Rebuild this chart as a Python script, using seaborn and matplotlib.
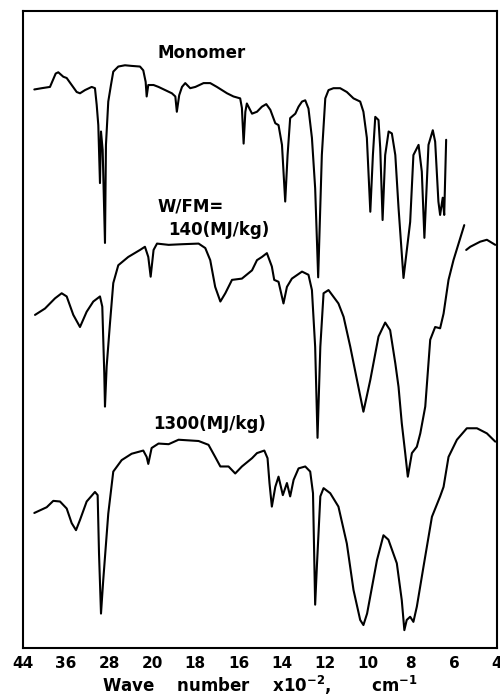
import numpy as np
import pandas as pd
import matplotlib
matplotlib.use("Agg")
import matplotlib.pyplot as plt
import seaborn as sns

# ---- data: wavenumber (x10^2 cm^-1) and relative transmittance (chart %) ----
mono_w = [41.90, 40.53, 38.99, 37.93, 37.45, 36.52, 35.89, 34.96, 34.03, 33.42, 32.49, 31.25, 30.64,
          30.32, 30.02, 29.71, 29.52, 29.21, 28.78, 28.60, 28.17, 27.67, 27.24, 26.31, 25.07, 23.83,
          22.28, 21.67, 21.23, 21.04, 20.74, 19.94, 19.71, 19.40, 19.09, 18.93, 18.86, 18.75, 18.62,
          18.47, 18.24, 18.00, 17.62, 17.31, 17.00, 16.53, 16.23, 15.92, 15.84, 15.76, 15.68, 15.61,
          15.37, 15.14, 14.91, 14.71, 14.52, 14.29, 14.14, 13.98, 13.83, 13.72, 13.60, 13.36, 13.21,
          13.05, 12.90, 12.75, 12.59, 12.44, 12.30, 12.13, 11.97, 11.82, 11.59, 11.28, 10.97, 10.66,
          10.35, 10.20, 10.04, 9.88, 9.76, 9.65, 9.50, 9.42, 9.31, 9.19, 9.03, 8.88, 8.72, 8.57, 8.34,
          8.03, 7.88, 7.64, 7.49, 7.37, 7.18, 6.98, 6.87, 6.72, 6.64, 6.52, 6.45, 6.36]
mono_t = [87.7, 87.9, 88.1, 90.2, 90.4, 89.7, 89.5, 88.4, 87.3, 87.1, 87.6, 88.1, 87.9,
          85.3, 82.1, 73.0, 81.1, 78.2, 63.6, 79.0, 85.8, 88.4, 90.5, 91.3, 91.5, 91.4,
          91.3, 90.7, 88.9, 86.6, 88.4, 88.4, 88.1, 87.6, 87.1, 86.6, 84.2, 86.8, 88.1,
          88.7, 87.9, 88.1, 88.7, 88.7, 88.1, 87.1, 86.6, 86.3, 84.8, 79.2, 84.2, 85.5,
          83.9, 84.2, 85.0, 85.4, 84.5, 82.4, 82.1, 79.0, 70.1, 77.4, 83.2, 83.9, 85.0,
          85.8, 86.0, 84.7, 80.1, 72.2, 58.2, 77.4, 86.3, 87.6, 87.9, 87.9, 87.3, 86.3,
          85.8, 84.2, 80.1, 68.5, 77.4, 83.4, 82.9, 78.5, 67.2, 77.4, 81.1, 80.8, 77.4, 69.1, 58.1,
          66.9, 77.4, 79.0, 74.8, 64.4, 79.0, 81.3, 79.5, 70.1, 68.0, 70.7, 68.0, 79.8]

w140_w = [41.77, 39.92, 38.06, 36.82, 35.89, 34.66, 33.42, 32.18, 30.95, 29.71, 29.28, 28.91, 28.78,
          28.47, 27.85, 27.24, 26.31, 24.46, 22.28, 21.36, 20.74, 20.30, 19.94, 19.78, 19.24, 18.62,
          17.85, 17.54, 17.31, 17.08, 16.84, 16.61, 16.30, 15.84, 15.37, 15.14, 14.91, 14.68, 14.45,
          14.34, 14.14, 13.91, 13.75, 13.52, 13.05, 12.75, 12.59, 12.44, 12.33, 12.20, 12.05, 11.82,
          11.36, 11.12, 10.81, 10.50, 10.20, 9.88, 9.50, 9.19, 8.96, 8.72, 8.57, 8.42, 8.26, 8.14,
          7.95, 7.72, 7.56, 7.33, 7.10, 6.87, 6.64, 6.48, 6.25, 6.02, 5.52,
          np.nan, 5.43, 5.24, 4.78, 4.47, 4.08]
w140_t = [52.3, 53.3, 54.9, 55.7, 55.2, 52.3, 50.4, 52.8, 54.4, 55.2, 53.6, 43.1, 37.9,
          44.2, 51.0, 57.3, 60.1, 61.4, 62.5, 63.0, 61.4, 58.3, 62.5, 63.5, 63.3, 63.4,
          63.5, 62.8, 60.9, 56.7, 54.4, 55.7, 57.8, 58.0, 59.3, 60.9, 61.4, 62.0, 59.9,
          57.8, 57.5, 54.1, 56.7, 58.0, 59.1, 58.6, 56.2, 47.3, 33.0, 47.3, 55.7, 56.2,
          54.1, 52.0, 47.3, 42.1, 37.1, 42.1, 48.9, 51.1, 49.9, 44.7, 41.0, 35.3, 30.6, 26.9,
          30.6, 31.6, 33.7, 37.9, 48.4, 50.4, 50.2, 52.5, 57.8, 60.9, 66.4,
          np.nan, 62.5, 63.0, 63.8, 64.1, 63.3]

w1300_w = [41.90, 39.60, 38.38, 37.13, 35.89, 34.96, 34.16, 33.42, 32.18, 30.64, 30.14, 29.89, 29.52,
           29.10, 28.17, 27.24, 25.68, 23.83, 21.67, 21.04, 20.74, 20.12, 19.71, 19.24, 18.78, 17.85,
           17.39, 17.08, 16.84, 16.46, 16.15, 15.84, 15.37, 15.14, 14.80, 14.65, 14.56, 14.45, 14.29,
           14.14, 13.94, 13.75, 13.60, 13.44, 13.21, 12.90, 12.67, 12.54, 12.44, 12.36, 12.20, 12.05,
           11.74, 11.36, 10.97, 10.66, 10.35, 10.20, 10.03, 9.57, 9.27, 9.04, 8.65, 8.42, 8.30, 8.19,
           8.03, 7.88, 7.72, 7.41, 7.02, 6.64, 6.48, 6.25, 5.86, 5.40, 4.93, 4.47, 4.08]
w1300_t = [21.2, 22.1, 23.1, 23.0, 21.9, 19.6, 18.5, 20.1, 23.0, 24.5, 24.0, 14.9, 5.4,
           10.7, 21.1, 27.7, 29.5, 30.5, 31.0, 30.0, 28.9, 31.4, 32.1, 32.0, 32.7, 32.5,
           31.9, 30.0, 28.5, 28.5, 27.4, 28.5, 29.8, 30.6, 31.0, 29.8, 25.9, 22.2, 25.3,
           26.9, 24.0, 25.9, 23.8, 26.4, 28.2, 28.5, 27.7, 24.3, 6.8, 12.8, 23.8, 25.1,
           24.3, 22.2, 16.4, 9.1, 4.4, 3.6, 5.4, 13.8, 17.7, 17.0, 13.3, 7.5, 2.8, 4.4,
           4.9, 4.1, 6.5, 12.8, 20.6, 23.8, 25.3, 30.0, 32.7, 34.5, 34.5, 33.7, 32.4]

tick_values = [44, 36, 28, 20, 18, 16, 14, 12, 10, 8, 6, 4]
tick_labels = ["44", "36", "28", "20", "18", "16", "14", "12", "10", "8", "6", "4"]

labels = ["Monomer", "W/FM=", "140(MJ/kg)", "1300(MJ/kg)"]
label_x = [19.77, 19.77, 19.26, 19.95]
label_y = [93.4, 69.4, 65.6, 35.2]


# ---- piecewise (grating-change) wavenumber scale: increasing function of w ----
# 44..20 covers 3 chart divisions (8 per division), 20..4 covers 8 divisions (2 per division)
def fwd(w):
    w = np.asarray(w, dtype=float)
    return np.where(w >= 20, (w - 20.0) / 8.0, (w - 20.0) / 2.0)


def inv(p):
    p = np.asarray(p, dtype=float)
    return np.where(p >= 0, 20.0 + 8.0 * p, 20.0 + 2.0 * p)


sns.set_style("white")
plt.rcParams["font.family"] = ["DejaVu Sans"]
plt.rcParams["text.color"] = "black"
plt.rcParams["axes.labelcolor"] = "black"
plt.rcParams["xtick.color"] = "black"

fig = plt.figure(figsize=(5.0, 6.96), dpi=100)
ax = fig.add_axes([0.046, 0.069, 0.948, 0.915])
ax.set_xscale("function", functions=(fwd, inv))

for wv, tv in [(mono_w, mono_t), (w140_w, w140_t), (w1300_w, w1300_t)]:
    wv = np.array(wv, dtype=float)
    tv = np.array(tv, dtype=float)
    # split at NaN gaps so each pen segment is drawn separately
    breaks = np.where(np.isnan(wv))[0]
    starts = np.concatenate([[0], breaks + 1])
    ends = np.concatenate([breaks, [len(wv)]])
    for s, e in zip(starts, ends):
        df = pd.DataFrame({"w": wv[s:e], "t": tv[s:e]})
        sns.lineplot(data=df, x="w", y="t", sort=False, estimator=None,
                     color="black", linewidth=1.5, ax=ax)

ax.set_xlim(44, 4)
ax.set_ylim(0, 100)
ax.set_xticks(tick_values)
ax.set_xticklabels(tick_labels, fontsize=11, fontweight="bold")
ax.minorticks_off()
ax.tick_params(axis="x", direction="in", length=9, width=1.5, pad=6, color="black",
               labelcolor="black")
ax.set_yticks([])
ax.set_ylabel("")
ax.set_xlabel(r"Wave    number    x$\mathbf{10^{-2}}$,       cm$^{\mathbf{-1}}$",
              fontsize=12, fontweight="bold", labelpad=2, color="black")
for sp in ax.spines.values():
    sp.set_visible(True)
    sp.set_color("black")
    sp.set_linewidth(1.5)

for txt, x, y in zip(labels, label_x, label_y):
    ax.text(x, y, txt, ha="left", va="center", fontsize=12, fontweight="bold", color="black")

fig.savefig("out.png", dpi=100)
